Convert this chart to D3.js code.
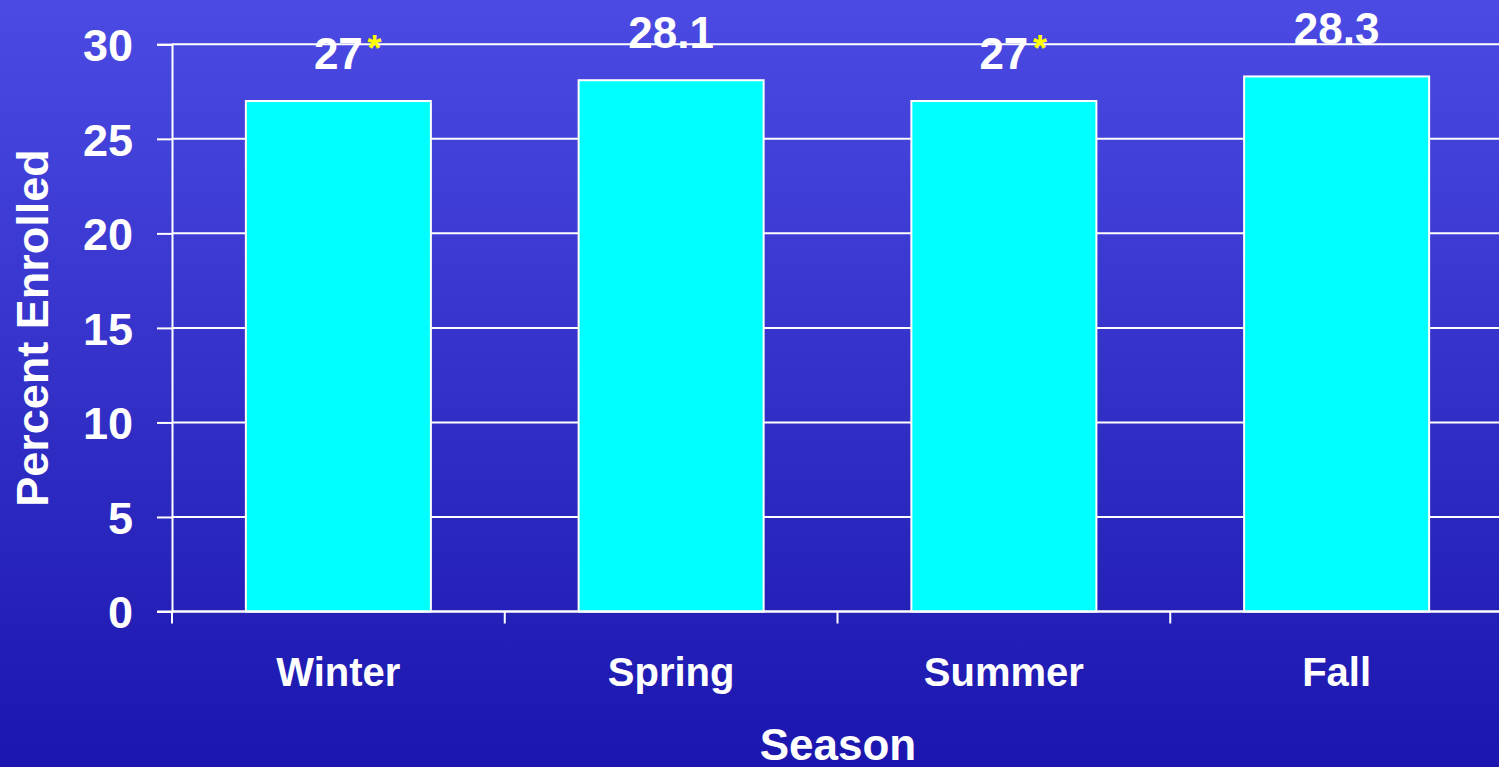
<!DOCTYPE html>
<html>
<head>
<meta charset="utf-8">
<script src="https://cdn.jsdelivr.net/npm/d3@7"></script>
<style>
  html, body { margin: 0; padding: 0; overflow: hidden; }
  body { width: 1499px; height: 767px; }
  text { font-family: "Liberation Sans", Arial, sans-serif; font-weight: bold; fill: #fff; }
</style>
</head>
<body>
<div id="chart"></div>
<script>
// Chart data
const seasons = ["Winter", "Spring", "Summer", "Fall"];
const enrolled = [27, 28.1, 27, 28.3];
const starred = [true, false, true, false];
const yTicks = [0, 5, 10, 15, 20, 25, 30];

const W = 1499, H = 767;
const margin = { top: 44.3, left: 172, bottom: 155.5 };
const plotRight = 1503;

const svg = d3.select("#chart")
  .append("svg")
  .attr("width", W)
  .attr("height", H);

// Background gradient
const grad = svg.append("defs").append("linearGradient")
  .attr("id", "bg")
  .attr("x1", 0).attr("y1", 0).attr("x2", 0).attr("y2", 1);
grad.append("stop").attr("offset", "0%").attr("stop-color", "#4b4be3");
grad.append("stop").attr("offset", "100%").attr("stop-color", "#1b16ad");

svg.append("rect")
  .attr("width", W)
  .attr("height", H)
  .attr("fill", "url(#bg)");

const x = d3.scaleBand()
  .domain(seasons)
  .range([margin.left, plotRight])
  .paddingInner(0.444)
  .paddingOuter(0.222);

const y = d3.scaleLinear()
  .domain([0, 30])
  .range([H - margin.bottom, margin.top]);

// Gridlines + y axis
const yAxis = svg.append("g")
  .attr("transform", "translate(" + margin.left + ",0)")
  .call(d3.axisLeft(y).tickValues(yTicks).tickSize(15).tickPadding(24));
yAxis.select(".domain").attr("stroke", "#fff").attr("stroke-width", 2);
yAxis.selectAll(".tick line").attr("stroke", "#fff").attr("stroke-width", 2);
yAxis.selectAll(".tick text")
  .style("font-size", "45px")
  .attr("dy", "0.36em");

svg.append("g")
  .selectAll("line")
  .data(yTicks)
  .enter().append("line")
  .attr("x1", margin.left)
  .attr("x2", W)
  .attr("y1", d => y(d))
  .attr("y2", d => y(d))
  .attr("stroke", "#fff")
  .attr("stroke-width", 2);

// Bars
svg.append("g")
  .selectAll("rect")
  .data(enrolled)
  .enter().append("rect")
  .attr("x", (d, i) => x(seasons[i]))
  .attr("y", d => y(d))
  .attr("width", x.bandwidth())
  .attr("height", d => y(0) - y(d))
  .attr("fill", "#00ffff")
  .attr("stroke", "#fff")
  .attr("stroke-width", 2);

// x axis
const step = x.step();
const xAxis = svg.append("g")
  .attr("transform", "translate(0," + y(0) + ")");
xAxis.append("line")
  .attr("x1", margin.left - 15)
  .attr("x2", W)
  .attr("stroke", "#fff")
  .attr("stroke-width", 2);
xAxis.selectAll("line.tk")
  .data(seasons)
  .enter().append("line")
  .attr("class", "tk")
  .attr("x1", d => x(d) - x.paddingOuter() * step)
  .attr("x2", d => x(d) - x.paddingOuter() * step)
  .attr("y1", 0)
  .attr("y2", 12)
  .attr("stroke", "#fff")
  .attr("stroke-width", 2);
xAxis.selectAll("text")
  .data(seasons)
  .enter().append("text")
  .attr("x", d => x(d) + x.bandwidth() / 2)
  .attr("y", 74)
  .attr("text-anchor", "middle")
  .style("font-size", "40px")
  .text(d => d);

// Value labels
const labels = svg.append("g");
labels.selectAll("text.val")
  .data(enrolled)
  .enter().append("text")
  .attr("class", "val")
  .attr("x", (d, i) => x(seasons[i]) + x.bandwidth() / 2)
  .attr("y", d => y(d) - 32)
  .attr("text-anchor", "middle")
  .style("font-size", "44px")
  .text(d => d);

labels.selectAll("text.star")
  .data(enrolled.map((d, i) => ({ v: d, s: seasons[i], on: starred[i] })).filter(d => d.on))
  .enter().append("text")
  .attr("class", "star")
  .attr("x", d => x(d.s) + x.bandwidth() / 2 + 29)
  .attr("y", d => y(d.v) - 40)
  .style("font-size", "36px")
  .style("fill", "#ffff00")
  .text("*");

// Axis titles
svg.append("text")
  .attr("x", 838)
  .attr("y", 760)
  .attr("text-anchor", "middle")
  .style("font-size", "44px")
  .text("Season");

svg.append("text")
  .attr("transform", "translate(48," + 328 + ") rotate(-90)")
  .attr("text-anchor", "middle")
  .style("font-size", "45px")
  .text("Percent Enrolled");
</script>
</body>
</html>
